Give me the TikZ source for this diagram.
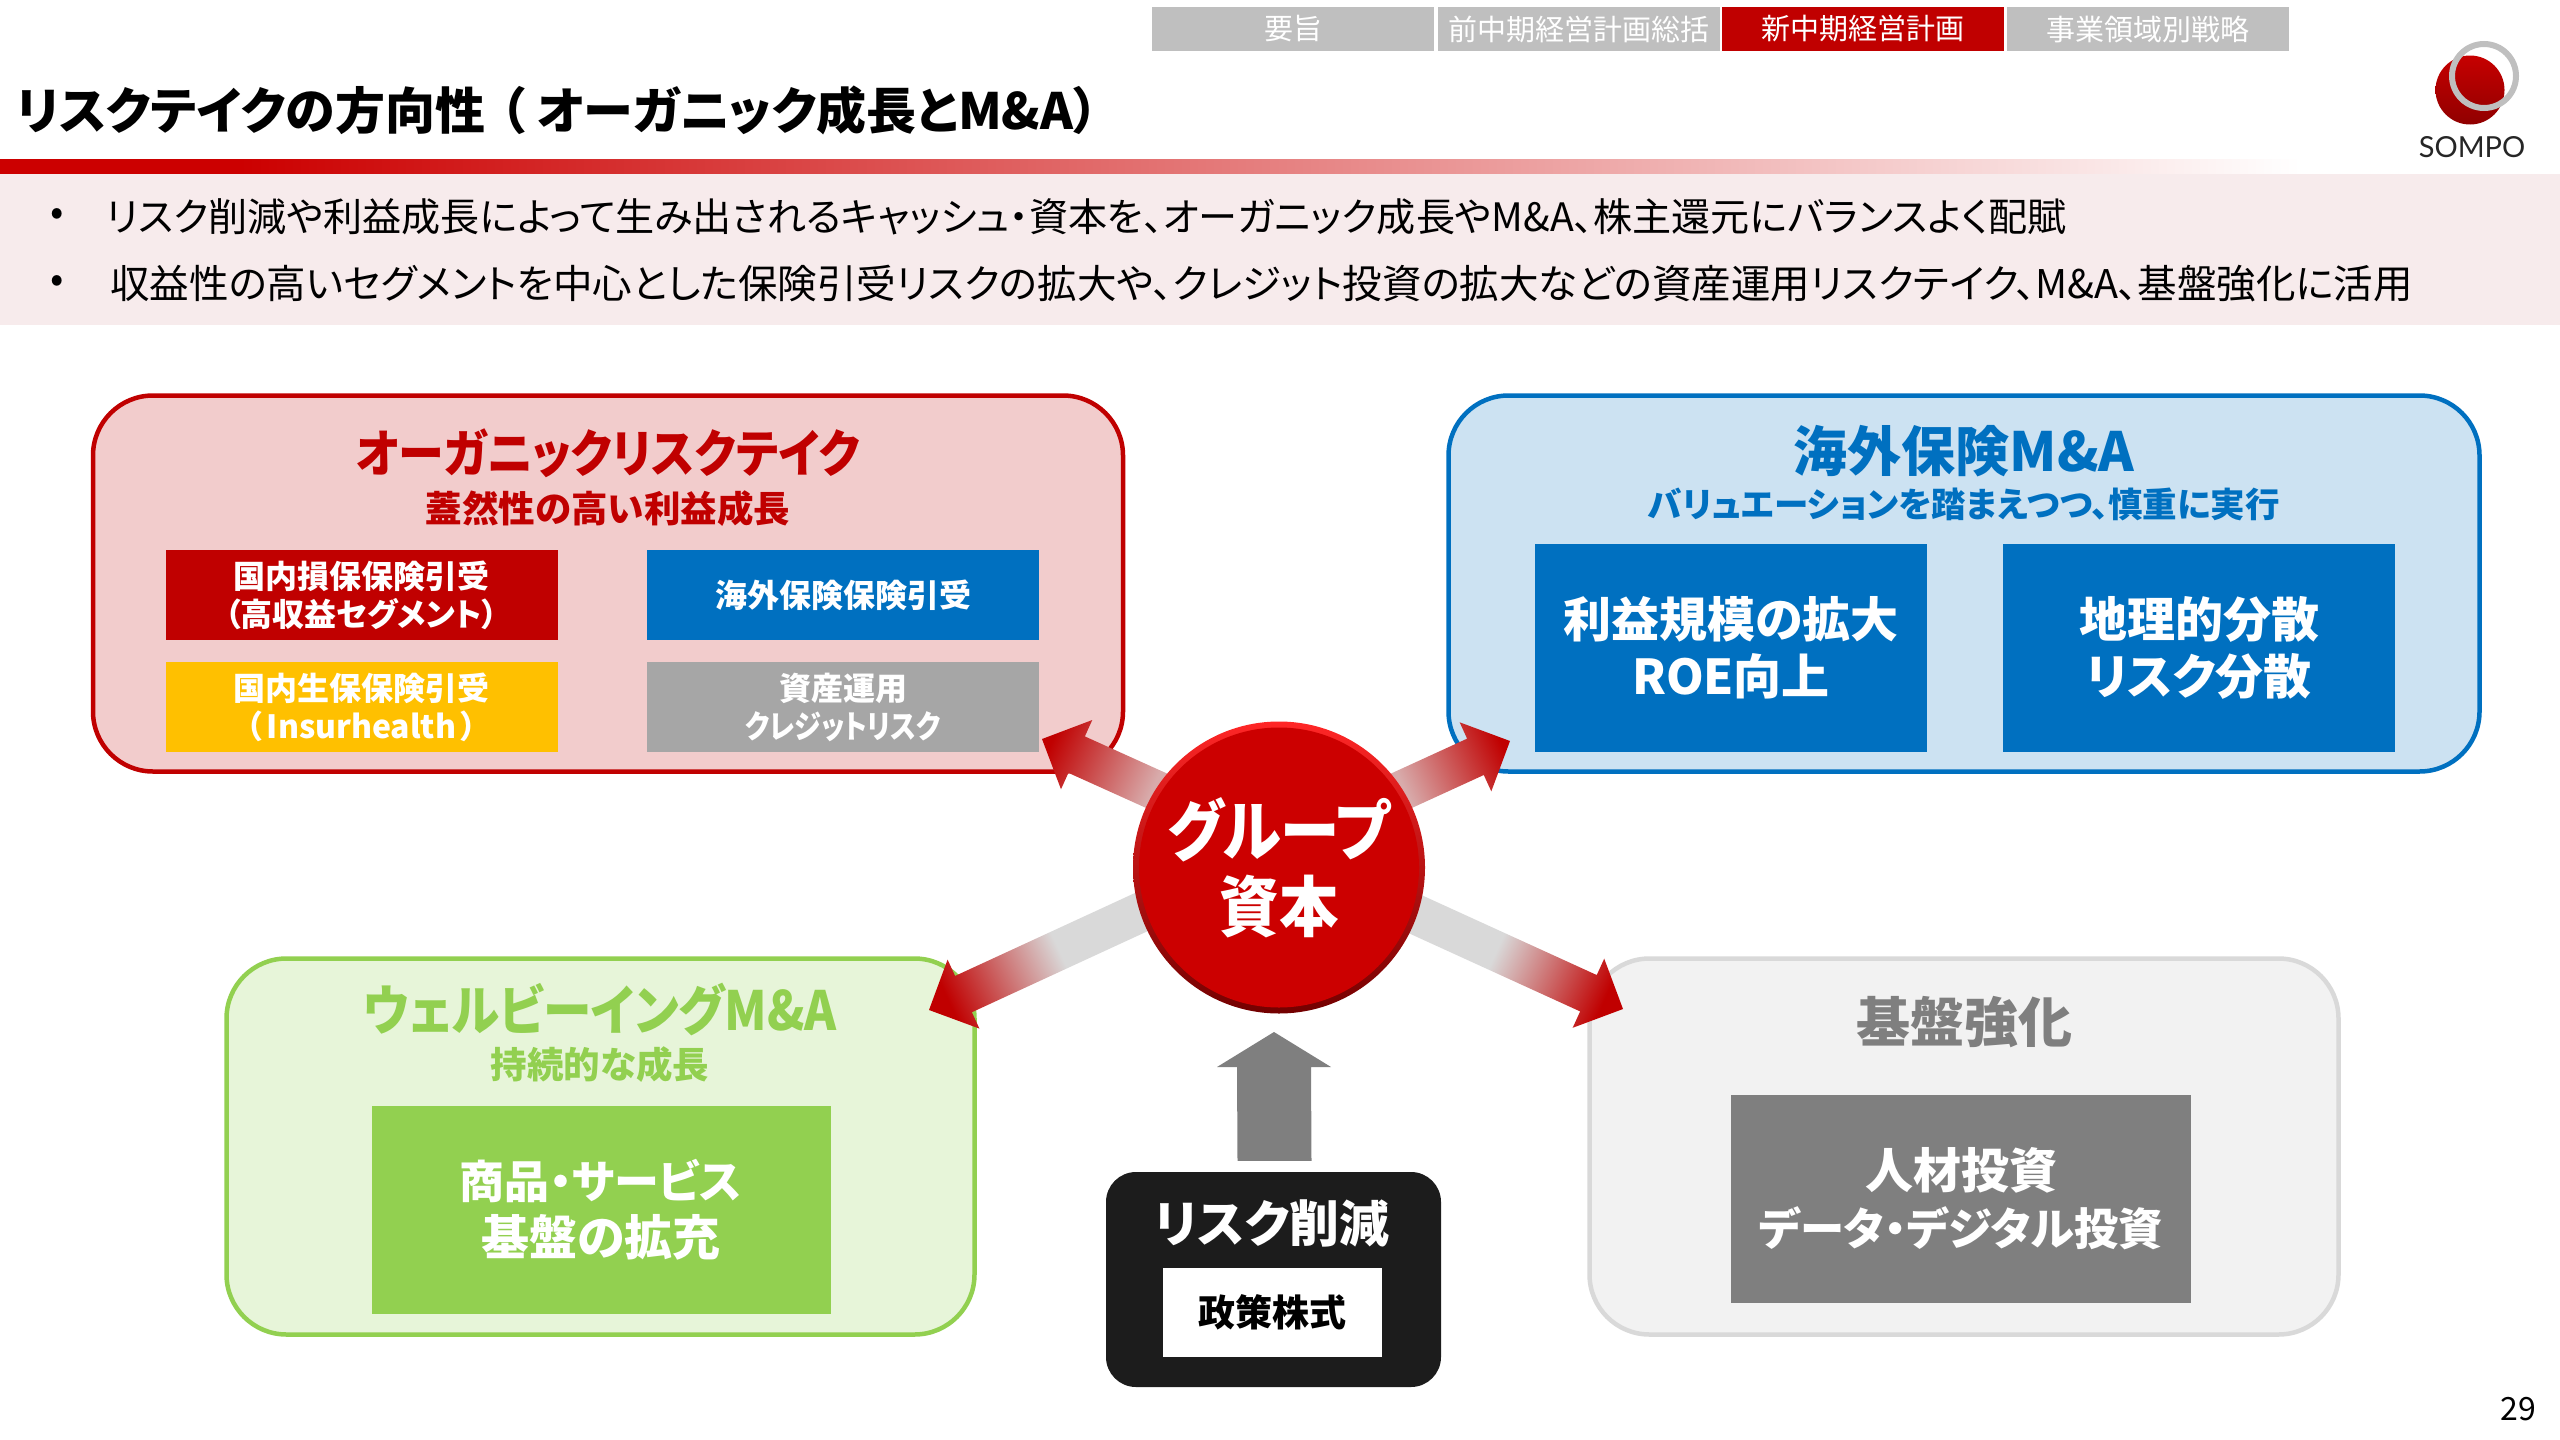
\documentclass[tikz,border=0pt]{standalone}
\usepackage{fontspec}
\usetikzlibrary{calc,positioning}
\setmainfont[RawFeature=+palt]{Noto Sans CJK JP}
\newfontfamily\thinjp[RawFeature=+palt,FakeStretch=0.9]{Noto Sans CJK JP}
\newfontfamily\tightjp[RawFeature=+palt,FakeStretch=0.85]{Noto Sans CJK JP}
\newfontfamily\logofont{Lato}

\definecolor{sompored}{HTML}{C00000}
\definecolor{capred}{HTML}{CC0000}
\definecolor{capgrey}{HTML}{D9D9D9}
\definecolor{capdust}{HTML}{D8ABAB}
\definecolor{sompoblue}{HTML}{0070C0}
\definecolor{sompogreen}{HTML}{92D050}
\definecolor{sompogold}{HTML}{FFC000}
\definecolor{midgrey}{HTML}{7F7F7F}
\definecolor{bandpink}{HTML}{F7EBEC}
\pgfdeclarelayer{front}
\pgfsetlayers{main,front}
\pgfdeclarehorizontalshading{dustfade}{100bp}{color(0bp)=(capdust); color(30bp)=(capdust); color(76bp)=(sompored); color(100bp)=(sompored)}
\pgfdeclarehorizontalshading{greyfade}{100bp}{color(0bp)=(capgrey); color(46bp)=(capgrey); color(76bp)=(sompored); color(100bp)=(sompored)}

\newcommand{\blockarrow}[3]{
  \coordinate (tail) at ($(#1)!-14pt!(#2)$);
  \coordinate (neck) at ($(#2)!38pt!(tail)$);
  \pgfmathanglebetweenpoints{\pgfpointanchor{tail}{center}}{\pgfpointanchor{#2}{center}}
  \let\blockangle\pgfmathresult
  \path[#3,shading angle=\blockangle]
    ($(tail)!20pt!90:(#2)$) -- ($(neck)!20pt!90:(#2)$) -- ($(neck)!38pt!90:(#2)$) -- (#2)
    -- ($(neck)!38pt!-90:(#2)$) -- ($(neck)!20pt!-90:(#2)$) -- ($(tail)!20pt!-90:(#2)$) -- cycle;
}

\begin{document}
\begin{tikzpicture}[x=1pt,y=-1pt,auto,
    tab node/.style={fill=#1,text=white,minimum width=282pt,minimum height=44pt,inner sep=0pt,font=\fontsize{29}{34}\selectfont},
    list node/.style={anchor=west,inner sep=0pt,font=\fontsize{39.5}{48}\selectfont},
    panel node/.style={draw=#1,line width=4.5pt,rounded corners=60pt,minimum height=376pt},
    head node/.style={inner sep=0pt,text=#1,font=\bfseries\fontsize{54}{60}\selectfont},
    sub node/.style={inner sep=0pt,text=#1,font=\bfseries\fontsize{36.5}{42}\selectfont},
    cell node/.style={fill=#1,text=white,minimum width=392pt,minimum height=90pt,inner sep=0pt,align=center,font=\bfseries\fontsize{32}{38}\selectfont},
    big node/.style={fill=#1,text=white,inner sep=0pt,align=center,minimum height=208pt,font=\bfseries\fontsize{48}{57}\selectfont},
    dust arrow/.style={shade,shading=dustfade},
    grey arrow/.style={shade,shading=greyfade}]
  \path[use as bounding box] (0,0) rectangle (2560,1440);

  \begin{pgfonlayer}{front}
    \node[circle,minimum size=292pt,inner sep=0pt,top color=red!85!white,bottom color=red!45!black,
          path picture={\fill[capred] (path picture bounding box.center) circle (140pt);},
          text=white,align=center,font=\bfseries\thinjp\fontsize{66}{76}\selectfont] (capital) at (1279,867.5) {グループ\\資本};
  \end{pgfonlayer}

  \node[tab node=black!25] (tab1) at (1293,29) {要旨};
  \node[tab node=black!25] (tab2) at (1579,29) {前中期経営計画総括};
  \node[tab node=sompored] (tab3) at (1863,29) {新中期経営計画};
  \node[tab node=black!25] (tab4) at (2148,29) {事業領域別戦略};

  \node[anchor=west,inner sep=0pt,font=\bfseries\fontsize{50}{60}\selectfont] (title) at (16,110) {リスクテイクの方向性\hspace{15pt}（\hspace{12pt}オーガニック成長とM\&A）};
  \fill[capred] (0,159) rectangle (240,174);
  \path[left color=capred,right color=white] (240,159) rectangle (2300,174);
  \fill[bandpink] (0,174) rectangle (2560,325);
  \node[list node] (dot1) at (50,217) {•};
  \node[list node] (dot2) at (50,284) {•};
  \node[list node,font=\fontsize{39.1}{48}\selectfont] (item1) at (106,217) {リスク削減や利益成長によって生み出されるキャッシュ・資本を、オーガニック成長やM\&A、株主還元にバランスよく配賦};
  \node[list node] (item2) at (110,284) {収益性の高いセグメントを中心とした保険引受リスクの拡大や、クレジット投資の拡大などの資産運用リスクテイク、M\&A、基盤強化に活用};

  \node[circle,minimum size=69pt,inner sep=0pt,top color=sompored!90!red,bottom color=sompored!75!black] (logodisc) at (2470,90) {};
  \node[circle,draw=black!25,line width=6pt,minimum size=64pt,inner sep=0pt] (logoring) at (2484,76) {};
  \node[inner sep=0pt,text=black!85,font=\logofont\fontsize{29}{34}\selectfont] (logoname) at (2472,147) {SOMPO};

  \node[panel node=sompored,fill=sompored!20!white,minimum width=1030pt] (organic) at (608,583.5) {};
  \node[head node=sompored,font=\bfseries\thinjp\fontsize{51}{60}\selectfont] (organichead) at (608,453) {オーガニックリスクテイク};
  \node[sub node=sompored] (organicsub) [below=13pt of organichead] {蓋然性の高い利益成長};
  \node[cell node=sompored] (cell1) at (361.5,595) {国内損保保険引受\\（高収益セグメント）};
  \node[cell node=sompoblue] (cell2) at (843,595) {海外保険保険引受};
  \node[cell node=sompogold] (cell3) at (361.5,707) {国内生保保険引受\\（\hspace{5pt}Insurhealth\hspace{5pt}）};
  \node[cell node=black!35] (cell4) at (843,707) {資産運用\\{\tightjp クレジットリスク}};

  \node[panel node=sompoblue,fill=sompoblue!20!white,minimum width=1031pt] (overseas) at (1964,583.5) {};
  \node[head node=sompoblue] (overseashead) at (1964,451) {海外保険M\&A};
  \node[sub node=sompoblue,font=\bfseries\fontsize{34.5}{42}\selectfont] (overseassub) [below=11pt of overseashead] {バリュエーションを踏まえつつ、慎重に実行};
  \node[big node=sompoblue,minimum width=392pt] (scale) at (1731,647.5) {利益規模の拡大\\ROE向上};
  \node[big node=sompoblue,minimum width=392pt] (spread) at (2199,647.5) {地理的分散\\リスク分散};

  \node[panel node=sompogreen,fill=sompogreen!22!white,minimum width=748pt] (wellbeing) at (600.5,1146.5) {};
  \node[head node=sompogreen,font=\bfseries\thinjp\fontsize{54}{60}\selectfont] (wellbeinghead) at (600,1009) {ウェルビーイングM\&A};
  \node[sub node=sompogreen] (wellbeingsub) [below=11pt of wellbeinghead] {持続的な成長};
  \node[big node=sompogreen,minimum width=459pt] (service) at (601,1209.5) {{\fontsize{45}{57}\selectfont 商品・サービス}\\基盤の拡充};

  \node[panel node=capgrey,fill=black!5,minimum width=749pt] (base) at (1964,1146.5) {};
  \node[head node=midgrey] (basehead) at (1964,1022) {基盤強化};
  \node[big node=midgrey,minimum width=460pt] (people) at (1961,1198.5) {人材投資\\{\fontsize{44.3}{57}\selectfont データ・デジタル投資}};

  \node[rectangle,rounded corners=30pt,fill=black!89,minimum width=335pt,minimum height=215pt] (cut) at (1273.5,1279.5) {};
  \node[inner sep=0pt,text=white,font=\bfseries\fontsize{50}{60}\selectfont] (cuthead) at (1272,1223) {リスク削減};
  \node[fill=white,minimum width=219pt,minimum height=89pt,inner sep=0pt,font=\bfseries\fontsize{37}{42}\selectfont] (cutcell) at (1272.5,1312.5) {政策株式};

  \coordinate (organictip) at (1042,739);
  \coordinate (overseastip) at (1510,741);
  \coordinate (wellbeingtip) at (929,1010);
  \coordinate (basetip) at (1623,1009);
  \coordinate (uptip) at (1274,1032);
  \coordinate (upfoot) at ($(cut.north)+(1,-11)$);

  \blockarrow{capital.148.5}{organictip}{dust arrow}
  \blockarrow{capital.32}{overseastip}{dust arrow}
  \blockarrow{capital.198.4}{wellbeingtip}{grey arrow}
  \blockarrow{capital.-19}{basetip}{grey arrow}
  \fill[midgrey] ($(upfoot)+(-37,0)$) -- ($(uptip)+(-37,35)$) -- ($(uptip)+(-57,35)$) -- (uptip) -- ($(uptip)+(57,35)$) -- ($(uptip)+(37,35)$) -- ($(upfoot)+(37,0)$) -- cycle;

  \node[inner sep=0pt,font=\fontsize{32}{36}\selectfont] (page) at (2518,1409) {29};
\end{tikzpicture}
\end{document}
